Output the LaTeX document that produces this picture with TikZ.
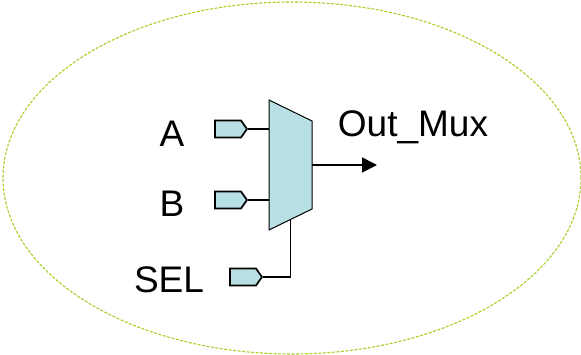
\documentclass[tikz,border=0pt]{standalone}
\usepackage{fontspec}
\setmainfont{Liberation Sans}
\usetikzlibrary{arrows.meta,shapes.geometric,shapes.symbols}
\definecolor{muxfill}{RGB}{184,223,228}
\definecolor{zone}{RGB}{165,208,40}
\tikzset{
	port/.style={signal,signal to=east,signal pointer angle=110,draw,fill=muxfill,line width=1.7pt,
		minimum width=32pt,minimum height=17pt,inner sep=0pt,anchor=east},
	label/.style={font=\fontsize{37}{40}\selectfont,anchor=base,inner sep=0pt},
	wire/.style={line width=1.6pt}
}
\begin{document}
\begin{tikzpicture}[x=1pt,y=-1pt]
		\useasboundingbox (0,0) rectangle (581,355);
		\node (zone) at (292,178) [ellipse,draw=zone,dash pattern=on 3pt off 1.5pt,line width=1.1pt,
			minimum width=578pt,minimum height=352pt,inner sep=0pt] {};

		\coordinate (nw) at (269,100);
		\coordinate (ne) at (312,121);
		\coordinate (se) at (312,209);
		\coordinate (sw) at (269,230);
		\coordinate (bottom) at (290.5,219.5);
		\draw[fill=muxfill,line width=1pt] (nw) -- (ne) -- (se) -- (sw) -- cycle;

		\node (a) at (248,129) [port] {};
		\node (b) at (248,200) [port] {};
		\node (sel) at (263,277) [port] {};
		\coordinate (mid) at (312,165);
		\coordinate (out) at (377,165);

		\draw[wire] (a.east) -- (a.east -| nw);
		\draw[wire] (b.east) -- (b.east -| nw);
		\draw[wire] (sel.east) -| (bottom);
		\draw[wire,-{Triangle[length=15pt,width=15pt]}] (mid) -- (out);

		\node (alabel) at (172,147) [label] {A};
		\node (blabel) at (172,217) [label] {B};
		\node (sellabel) at (169,293) [label] {SEL};
		\node (outlabel) at (413,137) [label] {Out\_Mux};
	\end{tikzpicture}
\end{document}
